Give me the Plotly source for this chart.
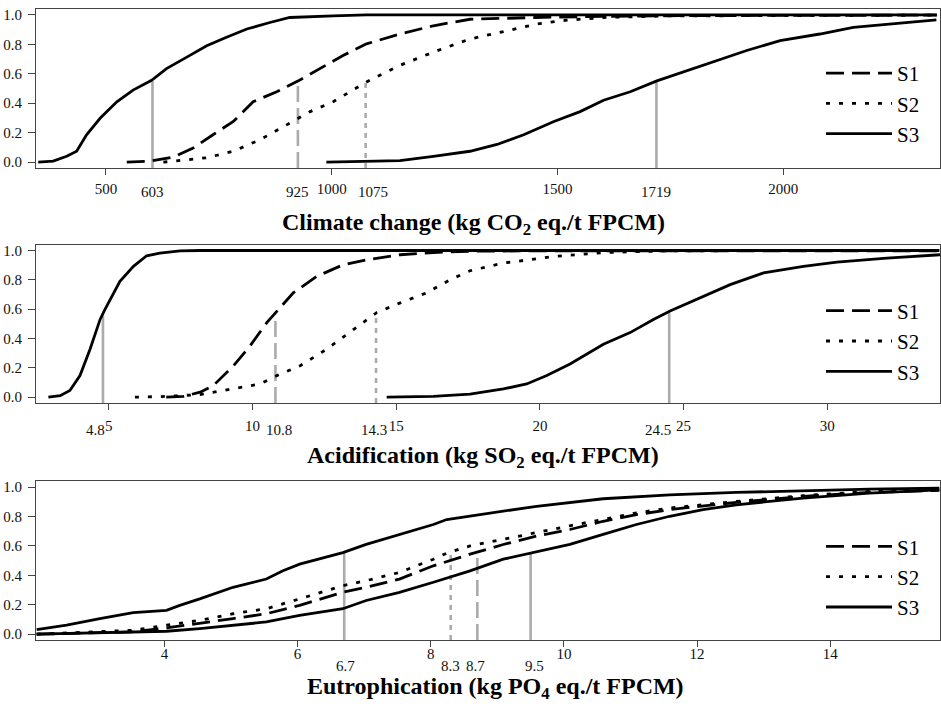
import plotly.graph_objects as go

FONT = "Liberation Serif, Times New Roman, Times, serif"

# ---------------- Climate change (kg CO2 eq./t FPCM) ----------------
cc_ref_x = [350, 383, 413, 435, 457, 487, 524, 560, 601, 634, 679, 723, 767, 812, 863, 907, 1003, 1077, 2340]
cc_ref_p = [0.0, 0.007, 0.04, 0.074, 0.186, 0.298, 0.41, 0.489, 0.556, 0.635, 0.713, 0.79, 0.848, 0.904, 0.948, 0.982, 0.993, 1.0, 1.0]
cc_s1_x = [546, 597, 649, 693, 737, 782, 826, 878, 926, 974, 1025, 1077, 1151, 1225, 1306, 1450, 1600, 1800, 2340]
cc_s1_p = [0.0, 0.007, 0.034, 0.096, 0.186, 0.276, 0.41, 0.478, 0.552, 0.635, 0.724, 0.803, 0.87, 0.926, 0.97, 0.982, 0.99, 0.995, 0.998]
cc_s2_x = [627, 723, 782, 841, 900, 952, 1003, 1077, 1151, 1225, 1306, 1380, 1454, 1506, 1601, 1749, 2340]
cc_s2_p = [0.0, 0.03, 0.074, 0.152, 0.253, 0.343, 0.41, 0.545, 0.657, 0.747, 0.836, 0.886, 0.937, 0.96, 0.982, 0.993, 0.998]
cc_s3_x = [988, 1077, 1151, 1225, 1306, 1366, 1425, 1492, 1550, 1602, 1661, 1720, 1779, 1845, 1919, 1993, 2081, 2155, 2266, 2339]
cc_s3_p = [0.0, 0.007, 0.011, 0.04, 0.074, 0.12, 0.186, 0.276, 0.343, 0.42, 0.478, 0.552, 0.612, 0.68, 0.758, 0.825, 0.87, 0.915, 0.948, 0.966]
# medians in order: reference curve, S1, S2, S3
cc_medians = [603, 925, 1075, 1719]
cc_median_tops = [0.55, 0.555, 0.545, 0.552]
cc_ticks = [500, 1000, 1500, 2000]

# ---------------- Acidification (kg SO2 eq./t FPCM) ----------------
ac_ref_x = [2.90, 3.31, 3.65, 4.00, 4.35, 4.70, 4.87, 5.16, 5.39, 5.86, 6.32, 6.78, 7.48, 8.2, 33.9]
ac_ref_p = [0.0, 0.01, 0.045, 0.147, 0.327, 0.53, 0.598, 0.711, 0.79, 0.892, 0.964, 0.982, 0.998, 1.0, 1.0]
ac_s1_x = [7.0, 7.60, 8.18, 8.64, 9.34, 9.92, 10.5, 10.9, 11.42, 12.24, 13.16, 13.98, 15.14, 16.29, 17.57, 20.0, 33.9]
ac_s1_p = [0.0, 0.005, 0.034, 0.079, 0.214, 0.35, 0.508, 0.598, 0.711, 0.824, 0.903, 0.937, 0.971, 0.986, 0.995, 0.998, 0.998]
ac_s2_x = [5.91, 7.02, 8.18, 9.34, 10.26, 10.85, 11.66, 12.58, 13.51, 14.32, 15.14, 16.06, 16.88, 17.57, 18.73, 20.47, 22.21, 24.53, 33.9]
ac_s2_p = [0.0, 0.005, 0.018, 0.056, 0.09, 0.147, 0.214, 0.327, 0.463, 0.576, 0.643, 0.711, 0.801, 0.862, 0.914, 0.959, 0.986, 0.998, 1.0]
ac_s3_x = [14.67, 16.29, 17.57, 18.73, 19.54, 20.24, 21.05, 22.21, 23.14, 23.95, 24.53, 25.46, 26.62, 27.78, 29.17, 30.33, 32.07, 33.92]
ac_s3_p = [0.0, 0.005, 0.02, 0.056, 0.09, 0.147, 0.226, 0.361, 0.44, 0.53, 0.587, 0.666, 0.767, 0.847, 0.892, 0.921, 0.948, 0.971]
ac_medians = [4.8, 10.8, 14.3, 24.5]
ac_median_tops = [0.557, 0.564, 0.549, 0.573]
ac_ticks = [5, 10, 15, 20, 25, 30]

# ---------------- Eutrophication (kg PO4 eq./t FPCM) ----------------
eu_ref_x = [2.08, 2.53, 3.03, 3.53, 4.03, 4.23, 4.53, 5.03, 5.53, 5.78, 6.03, 6.53, 6.68, 7.03, 7.53, 8.04, 8.24, 8.59, 9.59, 10.59, 11.59, 12.59, 13.59, 14.59, 15.64]
eu_ref_p = [0.031, 0.061, 0.106, 0.146, 0.162, 0.196, 0.24, 0.319, 0.375, 0.431, 0.476, 0.533, 0.555, 0.611, 0.679, 0.746, 0.78, 0.802, 0.87, 0.921, 0.948, 0.964, 0.978, 0.987, 0.993]
eu_s1_x = [2.08, 3.53, 4.03, 4.53, 5.03, 5.53, 6.03, 6.68, 7.03, 7.53, 8.04, 8.59, 9.09, 9.59, 10.09, 10.59, 11.09, 11.59, 12.59, 13.59, 14.59, 15.64]
eu_s1_p = [0.0, 0.016, 0.043, 0.072, 0.106, 0.139, 0.196, 0.285, 0.319, 0.375, 0.465, 0.544, 0.61, 0.667, 0.712, 0.768, 0.813, 0.847, 0.897, 0.937, 0.964, 0.978]
eu_s2_x = [2.08, 3.03, 3.53, 4.03, 4.53, 5.03, 5.53, 6.03, 6.68, 7.03, 7.53, 8.04, 8.26, 8.59, 9.09, 9.59, 10.09, 10.59, 11.09, 11.59, 12.59, 13.59, 14.59, 15.64]
eu_s2_p = [0.0, 0.016, 0.027, 0.061, 0.094, 0.139, 0.173, 0.24, 0.33, 0.364, 0.42, 0.51, 0.555, 0.6, 0.648, 0.691, 0.737, 0.78, 0.825, 0.858, 0.903, 0.942, 0.971, 0.982]
eu_s3_x = [2.08, 3.03, 4.03, 4.53, 5.03, 5.53, 6.03, 6.68, 7.03, 7.53, 8.04, 8.59, 9.09, 9.54, 10.09, 10.59, 11.09, 11.59, 12.09, 12.59, 13.59, 14.59, 15.64]
eu_s3_p = [0.0, 0.011, 0.02, 0.038, 0.061, 0.083, 0.128, 0.173, 0.229, 0.285, 0.353, 0.431, 0.51, 0.555, 0.611, 0.679, 0.746, 0.802, 0.847, 0.88, 0.926, 0.96, 0.982]
eu_medians = [6.7, 8.7, 8.3, 9.5]
eu_median_tops = [0.555, 0.555, 0.555, 0.555]
eu_ticks = [4, 6, 8, 10, 12, 14]

y_ticks = [0.0, 0.2, 0.4, 0.6, 0.8, 1.0]
series_names = ["S1", "S2", "S3"]

# ---------------- styling ----------------
BLACK = "#000000"
GREY = "#ababab"
CURVE_W = 2.8
DASH_S1 = "18px,8px"
DASH_S2 = "4px,9px"
MED_DASHES = ["solid", "16px,6px", "5px,5px", "solid"]

panels = [
    dict(xa="x", ya="y", leg="legend",
         ref=(cc_ref_x, cc_ref_p), s=[(cc_s1_x, cc_s1_p), (cc_s2_x, cc_s2_p), (cc_s3_x, cc_s3_p)],
         med=cc_medians, tops=cc_median_tops, ticks=cc_ticks, rng=[345, 2347],
         dom=[1 - 167 / 706, 1 - 7 / 706], standoff=1,
         med_shift=-24, med_xshift=[0, 0, 7, 0],
         title="Climate change (kg CO<sub>2</sub> eq./t FPCM)", tpos=(473, 223), legy=102),
    dict(xa="x2", ya="y2", leg="legend2",
         ref=(ac_ref_x, ac_ref_p), s=[(ac_s1_x, ac_s1_p), (ac_s2_x, ac_s2_p), (ac_s3_x, ac_s3_p)],
         med=ac_medians, tops=ac_median_tops, ticks=ac_ticks, rng=[2.47, 33.92],
         dom=[1 - 403.3 / 706, 1 - 244 / 706], standoff=3,
         med_shift=-27, med_xshift=[-7, 4, -2, -11],
         title="Acidification (kg SO<sub>2</sub> eq./t FPCM)", tpos=(483, 458), legy=341),
    dict(xa="x3", ya="y3", leg="legend3",
         ref=(eu_ref_x, eu_ref_p), s=[(eu_s1_x, eu_s1_p), (eu_s2_x, eu_s2_p), (eu_s3_x, eu_s3_p)],
         med=eu_medians, tops=eu_median_tops, ticks=eu_ticks, rng=[2.07, 15.65],
         dom=[1 - 641.7 / 706, 1 - 482 / 706], standoff=-6,
         med_shift=-25.5, med_xshift=[1, -2, 0, 4],
         title="Eutrophication (kg PO<sub>4</sub> eq./t FPCM)", tpos=(495, 690), legy=578),
]

fig = go.Figure()
annotations = []
layout_axes = {}

for i, pnl in enumerate(panels):
    xa, ya = pnl["xa"], pnl["ya"]
    for m, top, dsh in zip(pnl["med"], pnl["tops"], MED_DASHES):
        fig.add_trace(go.Scatter(x=[m, m], y=[-0.04, top], mode="lines", xaxis=xa, yaxis=ya,
                                 line=dict(color=GREY, width=2.6, dash=dsh),
                                 showlegend=False, hoverinfo="skip"))
    rx, rp = pnl["ref"]
    fig.add_trace(go.Scatter(x=rx, y=rp, mode="lines", xaxis=xa, yaxis=ya,
                             line=dict(color=BLACK, width=CURVE_W), showlegend=False))
    for (sx, sp), name, dsh in zip(pnl["s"], series_names, [DASH_S1, DASH_S2, "solid"]):
        fig.add_trace(go.Scatter(x=sx, y=sp, mode="lines", name=name, xaxis=xa, yaxis=ya,
                                 legend=pnl["leg"],
                                 line=dict(color=BLACK, width=CURVE_W, dash=dsh)))
    for m, xs in zip(pnl["med"], pnl["med_xshift"]):
        annotations.append(dict(x=m, y=0, xref=xa, yref=f"{ya} domain", text=f"{m:g}",
                                showarrow=False, yanchor="middle", xanchor="center",
                                yshift=pnl["med_shift"], xshift=xs,
                                font=dict(family=FONT, size=15, color="#111")))
    tx, ty = pnl["tpos"]
    annotations.append(dict(x=(tx - 36) / 904, y=1 - ty / 706, xref="paper", yref="paper",
                            text=f"<b>{pnl['title']}</b>", showarrow=False,
                            xanchor="center", yanchor="middle", borderpad=0,
                            font=dict(family=FONT, size=24, color="#000")))
    suffix = "" if i == 0 else str(i + 1)
    layout_axes[f"xaxis{suffix}"] = dict(
        domain=[0, 1], anchor=ya, range=pnl["rng"], tickvals=pnl["ticks"],
        ticks="outside", ticklen=6, tickcolor="#444", tickwidth=1,
        ticklabelstandoff=pnl["standoff"],
        tickfont=dict(family=FONT, size=15, color="#111"),
        showline=True, mirror=True, linecolor="#444", linewidth=1,
        showgrid=False, zeroline=False)
    layout_axes[f"yaxis{suffix}"] = dict(
        domain=pnl["dom"], anchor=xa, range=[-0.04, 1.04], tickvals=y_ticks,
        tickformat=".1f", ticks="outside", ticklen=7, tickcolor="#444", tickwidth=1,
        ticklabelstandoff=3,
        tickfont=dict(family=FONT, size=15, color="#111"),
        showline=True, mirror=True, linecolor="#444", linewidth=1,
        showgrid=False, zeroline=False)
    layout_axes[pnl["leg"]] = dict(
        x=(821 - 36) / 904, xanchor="left", y=1 - pnl["legy"] / 706, yanchor="middle",
        bgcolor="rgba(0,0,0,0)", borderwidth=0, itemwidth=66,
        font=dict(family=FONT, size=21, color="#000"))

fig.update_layout(
    width=941, height=706,
    margin=dict(l=36, r=1, t=0, b=0),
    paper_bgcolor="white", plot_bgcolor="white",
    annotations=annotations,
    font=dict(family=FONT),
    **layout_axes,
)

fig.write_html("out.html")
